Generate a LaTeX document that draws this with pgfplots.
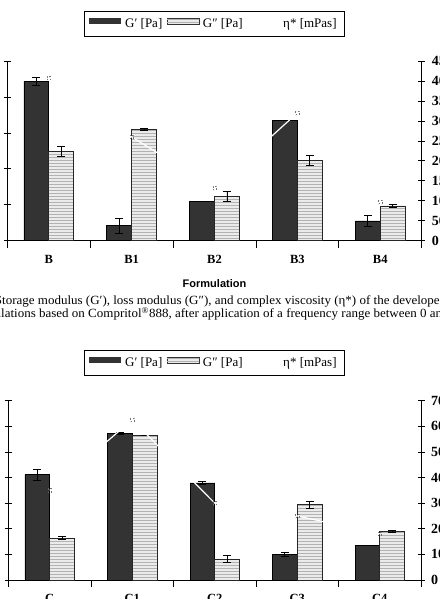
\documentclass[border=0pt]{standalone}
\usepackage{fontspec}
\setmainfont{Liberation Serif}
\newfontfamily\labelsans{Liberation Sans}
\newfontfamily\capfont[FakeStretch=1.04]{Liberation Serif}
\usepackage{pgfplots}
\pgfplotsset{compat=1.18}
\usepackage{pgfplotstable}
\usetikzlibrary{patterns}

\pgfplotstableread{
x g1 e1 g2 e2
0 4.44 0.11 2.49 0.14
1 0.42 0.21 3.09 0.03
2 1.09 0.00 1.23 0.15
3 3.34 0.00 2.23 0.14
4 0.55 0.14 0.97 0.05
}\tabB
\pgfplotstableread{
x eta
0 407
1 260
2 132
3 320
4 97
}\etaB
\pgfplotstableread{
x g1 e1 g2 e2
0 41.1 2.2 16.3 0.6
1 57.2 0.5 56.4 0.0
2 37.9 0.6 8.2 1.4
3 10.0 0.7 29.4 1.3
4 13.4 0.0 19.0 0.3
}\tabC
\pgfplotstableread{
x eta
0 35
1 62.5
2 30
3 25
4 18
}\etaC

\pgfplotsset{
  common/.style={scale only axis, xmin=-0.5, xmax=4.5, ymin=0,
    anchor=south west, enlargelimits=false,
    axis line style={line width=0.7pt, black},
    tick style={line width=0.7pt, black},
    tick align=center, major tick length=7pt,
    /pgf/number format/assume math mode=true,
    ticklabel style={font=\bfseries\fontsize{12.5}{13}\selectfont}},
  leftax/.style={common, ybar, axis y line*=left, axis x line*=bottom,
    yticklabels={},
    xtick={-0.5,0.5,...,4.5}, xticklabels={},
    extra x ticks={0,1,2,3,4},
    extra x tick style={major tick length=0pt,
      xticklabel style={anchor=north, inner sep=0pt, yshift=-14pt}},
    every axis x label/.style={at={(axis description cs:0.5,0)}, anchor=base,
      yshift=-46.6pt, font=\labelsans\bfseries\fontsize{11}{12}\selectfont}},
  rightax/.style={common, axis y line*=right, axis x line=none,
    yticklabel style={anchor=west, inner sep=0pt, xshift=6.5pt,
      font=\bfseries\fontsize{14}{14}\selectfont}},
  darkbar/.style={fill=black!80, draw=black, line width=0.6pt, bar width=0.3, bar shift=-0.15},
  lightbar/.style={fill=black!8, draw=black!85, line width=0.6pt,
    postaction={pattern=horizontal lines, pattern color=black!30}, bar width=0.3, bar shift=0.15},
  errs/.style={error bars/.cd, y dir=both, y explicit,
    error bar style={line width=0.8pt, black, solid},
    error mark options={rotate=90, mark size=4pt, line width=0.8pt, black}},
  etaline/.style={white, line width=1.2pt, mark=square, mark size=1.6pt,
    mark options={draw=black!55, dotted, line width=0.7pt, fill=none}},
}

\newcommand\legendbox[1]{%
\begin{scope}[yshift=#1]
 \draw[line width=0.7pt] (84pt,0pt) rectangle (344pt,-25pt);
 \fill[black!80] (89pt,-7.5pt) rectangle (121pt,-13.5pt);
 \draw[line width=0.5pt, draw=black!80, fill=black!8,
   postaction={pattern=horizontal lines,pattern color=black!30}] (167pt,-7.5pt) rectangle (199pt,-13.5pt);
 \node[anchor=base west, inner sep=0pt, font=\fontsize{13}{13}\selectfont] at (125pt,-16.3pt) {G′ [Pa]};
 \node[anchor=base west, inner sep=0pt, font=\fontsize{13}{13}\selectfont] at (202.7pt,-16.3pt) {G″ [Pa]};
 \node[anchor=base west, inner sep=0pt, font=\fontsize{13}{13}\selectfont] at (283pt,-16.3pt) {η* [mPas]};
\end{scope}}

\begin{document}
\begin{tikzpicture}
\useasboundingbox (0,0) rectangle (439pt,599pt);
\clip (0,0) rectangle (439pt,599pt);

% ---------- Chart 1 ----------
\begin{axis}[leftax, at={(7.3pt,358.3pt)}, width=414.4pt, height=179.7pt,
  ymax=5, ytick={0,1,...,5},
  extra x tick labels={B,B1,B2,B3,B4}, xlabel={Formulation}]
  \addplot[darkbar, errs] table[x=x, y=g1, y error=e1] {\tabB};
  \addplot[lightbar, errs] table[x=x, y=g2, y error=e2] {\tabB};
\end{axis}
\begin{axis}[rightax, at={(7.3pt,358.3pt)}, width=414.4pt, height=179.7pt,
  ymax=450, ytick={0,50,...,450}]
  \addplot[etaline] table[x=x, y=eta] {\etaB};
\end{axis}
\legendbox{588pt}

\node[anchor=base west, inner sep=0pt, font=\capfont\fontsize{12.5}{13}\selectfont] at (2pt,294pt)
  {\llap{S}torage modulus (G′), loss modulus (G″), and complex viscosity (η*) of the developed};
\node[anchor=base west, inner sep=0pt, font=\capfont\fontsize{12.5}{13}\selectfont] at (1pt,281pt)
  {\llap{formu}lations based on Compritol\textsuperscript{®}888, after application of a frequency range between 0 and};

% ---------- Chart 2 ----------
\begin{axis}[leftax, at={(8.5pt,19pt)}, width=412.5pt, height=179.3pt,
  ymax=70, ytick={0,10,...,70},
  extra x tick labels={C,C1,C2,C3,C4}, xlabel={Formulation}]
  \addplot[darkbar, errs] table[x=x, y=g1, y error=e1] {\tabC};
  \addplot[lightbar, errs] table[x=x, y=g2, y error=e2] {\tabC};
\end{axis}
\begin{axis}[rightax, at={(8.5pt,19pt)}, width=412.5pt, height=179.3pt,
  ymax=70, ytick={0,10,...,70}]
  \addplot[etaline] table[x=x, y=eta] {\etaC};
\end{axis}
\legendbox{249pt}
\end{tikzpicture}
\end{document}
